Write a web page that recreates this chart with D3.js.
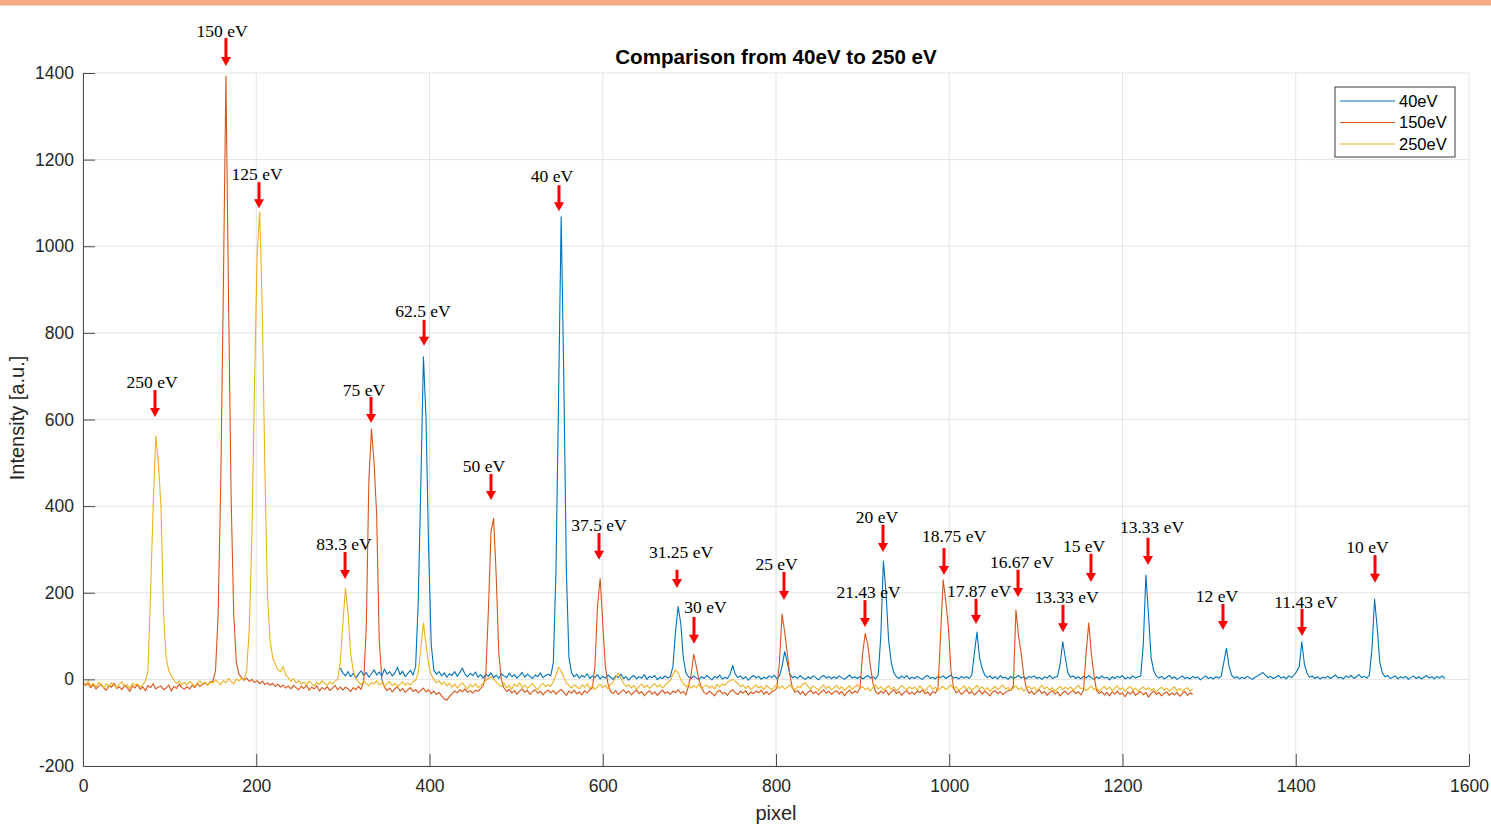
<!DOCTYPE html>
<html>
<head>
<meta charset="utf-8">
<script src="https://cdn.jsdelivr.net/npm/d3@7"></script>
<style>
  body { margin: 0; background: #fff; }
  svg { display: block; font-family: "Liberation Sans", Arial, Helvetica, sans-serif; }
</style>
</head>
<body>
<svg id="chart" width="1491" height="827"></svg>
<script>
// ---- spectra: intensity sampled every 3 pixels ----
const seriesNames = ["40eV", "150eV", "250eV"];
const pixelStep = 3;
const start40 = 297;
const start150 = 0;
const start250 = 0;

const intensity40 = [
  26,15,8,18,6,14,3,12,20,9,16,5,13,22,10,17,7,24,12,18,
  8,15,28,11,19,6,14,21,10,30,180,450,745,600,300,80,22,12,18,8,
  15,5,13,9,18,7,16,26,12,6,14,9,17,5,11,3,12,7,15,4,
  10,2,13,8,4,14,6,11,3,9,16,5,12,7,2,10,6,15,4,9,
  12,8,40,250,650,1068,700,250,50,15,6,12,3,9,5,13,2,8,4,11,
  1,7,3,10,5,0,8,4,12,2,6,-2,5,9,1,6,3,11,0,7,
  4,9,-1,5,2,8,3,6,30,110,168,130,50,15,6,2,8,3,0,6,
  2,9,4,-1,7,3,10,1,5,2,12,32,12,4,8,1,6,-2,5,9,
  3,7,0,5,2,8,4,10,1,8,30,64,40,12,4,7,2,9,3,0,
  6,2,8,4,-1,5,9,3,7,1,6,2,8,4,0,5,10,3,6,2,
  7,1,5,9,3,6,1,10,100,273,200,90,40,15,6,2,8,3,9,1,
  5,2,7,3,0,6,9,2,5,1,7,4,8,2,6,10,3,5,1,7,
  3,6,2,10,60,109,50,25,10,4,8,2,6,1,9,3,5,0,7,2,
  5,9,3,6,1,7,4,8,2,5,0,6,3,9,2,5,7,35,87,50,
  15,5,8,2,6,1,7,3,9,4,0,6,2,8,3,5,-1,6,2,7,
  4,9,1,5,2,8,3,6,8,80,241,150,50,20,8,3,7,1,5,9,
  2,6,0,4,8,2,5,1,7,3,6,-1,4,8,2,5,1,6,3,7,
  40,72,30,10,3,6,1,5,2,7,3,0,5,8,12,16,10,4,7,2,
  5,9,3,6,1,8,4,10,18,30,87,35,14,5,8,2,6,1,5,3,
  7,2,6,10,3,5,1,8,4,9,2,6,11,4,7,3,10,70,185,120,
  40,15,6,9,2,5,8,1,6,3,7,0,4,8,2,6,1,5,9,3,
  6,1,7,3,8,2
];

const intensity150 = [
  -8,-14,-10,-19,-12,-22,-16,-11,-20,-25,-14,-18,-9,-21,-17,-24,-13,-19,-28,-15,
  -20,-12,-23,-17,-26,-14,-19,-10,-22,-18,-15,-24,-20,-13,-27,-16,-21,-11,-19,-23,
  -17,-22,-14,-19,-10,-16,-12,-8,-13,-6,-4,20,150,450,900,1393,880,420,150,40,
  12,4,-2,3,-5,0,-7,-3,-10,-4,-12,-8,-14,-9,-16,-11,-18,-13,-20,-15,
  -22,-14,-19,-24,-16,-21,-13,-25,-18,-22,-15,-27,-19,-23,-17,-26,-20,-14,-24,-18,
  -25,-18,-22,-28,-19,-24,-16,-23,-5,120,460,578,500,380,90,0,-18,-26,-20,-29,
  -22,-17,-27,-21,-30,-24,-19,-28,-23,-31,-25,-20,-29,-24,-33,-27,-35,-30,-38,-45,
  -48,-40,-33,-27,-31,-24,-29,-22,-30,-26,-32,-25,-28,-21,-15,10,160,340,372,240,
  60,0,-20,-28,-23,-31,-26,-34,-27,-22,-30,-25,-35,-28,-24,-32,-27,-36,-29,-25,
  -31,-26,-34,-28,-23,-30,-37,-27,-32,-25,-33,-29,-36,-26,-31,-24,-20,30,170,233,
  130,30,-10,-28,-33,-26,-35,-29,-24,-32,-27,-36,-30,-25,-33,-28,-38,-31,-26,-34,
  -29,-37,-30,-25,-33,-28,-35,-27,-31,-24,-32,-28,-36,-15,10,58,30,0,-20,-30,
  -34,-27,-32,-38,-29,-25,-33,-30,-37,-28,-24,-31,-35,-27,-32,-26,-36,-29,-33,-27,
  -31,-25,-34,-28,-35,-29,-26,-20,40,151,110,60,10,-20,-30,-26,-34,-28,-37,-30,
  -25,-33,-28,-36,-30,-24,-32,-27,-35,-29,-26,-34,-28,-38,-30,-25,-33,-27,-31,-20,
  60,106,80,30,-10,-28,-34,-27,-32,-25,-36,-29,-24,-33,-28,-37,-30,-26,-34,-29,
  -35,-27,-31,-24,-33,-29,-37,-28,-32,-20,100,230,180,120,20,-20,-31,-26,-35,-29,
  -24,-33,-28,-36,-30,-25,-34,-27,-32,-38,-29,-26,-33,-28,-35,-30,-26,-25,-15,160,
  100,60,10,-20,-32,-27,-35,-29,-24,-33,-28,-37,-30,-26,-34,-29,-38,-31,-27,-35,
  -30,-25,-33,-28,-36,-25,60,130,60,10,-25,-33,-28,-36,-30,-38,-29,-34,-27,-35,
  -31,-40,-29,-34,-27,-37,-32,-28,-36,-30,-41,-33,-27,-35,-30,-38,-32,-29,-37,-31,
  -36,-30,-39,-33,-28,-37,-31,-35
];

const intensity250 = [
  -6,-12,-4,-15,-9,-18,-7,-13,-20,-10,-16,-8,-14,-19,-11,-6,-17,-12,-21,-9,
  -14,-10,-18,-12,-5,20,200,400,562,500,400,150,50,20,8,-2,-9,-4,-12,-7,
  -13,-5,-10,-16,-8,-3,-11,-6,-14,-4,-9,-1,-7,-12,-3,-8,2,-5,-10,1,
  -4,3,0,20,120,330,680,980,1079,850,480,190,90,50,35,22,18,30,10,4,
  -5,2,-8,-3,-11,-6,-13,-4,-10,-15,-7,-12,-3,-9,-14,-6,-11,-4,0,40,
  130,210,150,60,20,2,-6,-12,-4,-9,-15,-7,-11,-3,-13,-8,-16,-10,-5,-14,
  -9,-17,-11,-6,-14,-8,-13,-5,-2,15,70,130,80,35,10,0,-8,-3,-12,-6,
  -15,-9,-18,-11,-20,-13,-8,-16,-22,-12,-17,-10,-19,-14,-9,-3,2,6,1,-6,
  -12,-17,-9,-20,-14,-23,-11,-16,-8,-19,-13,-21,-15,-10,-18,-24,-14,-9,-17,-12,
  -16,-5,10,28,20,5,-8,-14,-20,-12,-17,-22,-13,-18,-10,-21,-15,-24,-16,-11,
  -19,-14,-22,-12,-6,5,14,3,-9,-17,-12,-20,-14,-23,-16,-11,-19,-13,-21,-15,
  -10,-18,-12,-20,-14,-8,-2,12,22,15,0,-10,-17,-12,-21,-14,-19,-11,-22,-16,
  -13,-20,-15,-22,-12,-18,-10,-14,-6,-3,0,-4,-10,-17,-13,-21,-15,-24,-18,-13,
  -20,-16,-23,-14,-19,-25,-17,-12,-21,-15,-22,-18,-13,-20,-24,-16,-19,-11,-8,-17,
  -22,-15,-20,-26,-18,-13,-21,-16,-24,-19,-14,-22,-17,-25,-20,-15,-23,-18,-12,-21,
  -16,-24,-19,-27,-18,-13,-22,-17,-25,-20,-15,-23,-18,-26,-21,-14,-19,-24,-17,-22,
  -18,-25,-15,-21,-27,-19,-14,-23,-18,-26,-20,-16,-24,-19,-13,-22,-17,-25,-21,-15,
  -23,-18,-26,-20,-14,-22,-17,-25,-19,-27,-21,-16,-24,-18,-13,-22,-19,-26,-20,-15,
  -24,-19,-27,-21,-16,-23,-18,-26,-20,-14,-22,-17,-25,-19,-28,-21,-16,-24,-18,-23,
  -17,-25,-20,-14,-22,-18,-26,-21,-15,-24,-19,-27,-22,-16,-23,-18,-26,-20,-15,-24,
  -19,-27,-21,-16,-25,-20,-28,-22,-17,-24,-19,-26,-21,-29,-23,-18,-25,-20,-27,-22,
  -17,-26,-21,-28,-23,-19,-27,-22
];

const xTicks = [0, 200, 400, 600, 800, 1000, 1200, 1400, 1600];
const yTicks = [-200, 0, 200, 400, 600, 800, 1000, 1200, 1400];

// peak annotations (pixel / intensity coordinates)
const peakNotes = [
  { label: "150 eV",   pixel: 165,    textPixel: 160.5,  textLevel: 1483, from: 1481, to: 1416 },
  { label: "125 eV",   pixel: 203.2,  textPixel: 200.9,  textLevel: 1153, from: 1148, to: 1088 },
  { label: "250 eV",   pixel: 83.1,   textPixel: 79.7,   textLevel: 673,  from: 668,  to: 606 },
  { label: "62.5 eV",  pixel: 393.7,  textPixel: 392.5,  textLevel: 837,  from: 830,  to: 770 },
  { label: "75 eV",    pixel: 332.5,  textPixel: 324.4,  textLevel: 654,  from: 652,  to: 592 },
  { label: "40 eV",    pixel: 549.5,  textPixel: 541.4,  textLevel: 1148, from: 1141, to: 1081 },
  { label: "50 eV",    pixel: 471,    textPixel: 462.9,  textLevel: 479,  from: 474,  to: 414 },
  { label: "83.3 eV",  pixel: 302.5,  textPixel: 301.3,  textLevel: 299,  from: 294,  to: 232 },
  { label: "37.5 eV",  pixel: 595.7,  textPixel: 595.7,  textLevel: 343,  from: 338,  to: 276 },
  { label: "31.25 eV", pixel: 685.7,  textPixel: 690.3,  textLevel: 280,  from: 253,  to: 211 },
  { label: "30 eV",    pixel: 705.3,  textPixel: 718.6,  textLevel: 153,  from: 144,  to: 82 },
  { label: "25 eV",    pixel: 809.2,  textPixel: 800.6,  textLevel: 253,  from: 248,  to: 183 },
  { label: "21.43 eV", pixel: 902.7,  textPixel: 906.8,  textLevel: 188,  from: 183,  to: 121 },
  { label: "20 eV",    pixel: 923.5,  textPixel: 916.6,  textLevel: 361,  from: 357,  to: 294 },
  { label: "18.75 eV", pixel: 993.9,  textPixel: 1005.5, textLevel: 317,  from: 303,  to: 241 },
  { label: "17.87 eV", pixel: 1030.9, textPixel: 1034.3, textLevel: 190,  from: 186,  to: 128 },
  { label: "16.67 eV", pixel: 1079.4, textPixel: 1084,   textLevel: 257,  from: 253,  to: 190 },
  { label: "13.33 eV", pixel: 1131.3, textPixel: 1135.4, textLevel: 176,  from: 172,  to: 109 },
  { label: "15 eV",    pixel: 1163.6, textPixel: 1155.6, textLevel: 294,  from: 290,  to: 225 },
  { label: "13.33 eV", pixel: 1229.4, textPixel: 1234.1, textLevel: 338,  from: 327,  to: 264 },
  { label: "12 eV",    pixel: 1316,   textPixel: 1309.1, textLevel: 179,  from: 174,  to: 114 },
  { label: "11.43 eV", pixel: 1407.2, textPixel: 1411.8, textLevel: 165,  from: 163,  to: 100 },
  { label: "10 eV",    pixel: 1491.5, textPixel: 1482.8, textLevel: 292,  from: 287,  to: 223 }
];

const colors = ["#0072BD", "#D95319", "#EDB120"];

// ---- layout ----
const svg = d3.select("#chart");
const W = 1491, H = 827;
const plot = { left: 83, right: 1469, top: 73, bottom: 766 };

const x = d3.scaleLinear().domain([0, 1600]).range([plot.left, plot.right]);
const y = d3.scaleLinear().domain([-200, 1400]).range([plot.bottom, plot.top]);

// header strip
svg.append("rect").attr("x", 0).attr("y", 0).attr("width", W).attr("height", 5.5)
  .attr("fill", "#F3AA82");

// grid
const grid = svg.append("g").attr("stroke", "#e3e3e3").attr("stroke-width", 1);
grid.selectAll("line.vx").data(xTicks).join("line")
  .attr("x1", d => x(d)).attr("x2", d => x(d))
  .attr("y1", plot.top).attr("y2", plot.bottom);
grid.selectAll("line.hy").data(yTicks).join("line")
  .attr("x1", plot.left).attr("x2", plot.right)
  .attr("y1", d => y(d)).attr("y2", d => y(d));

// spectra
const toPoints = (start, vals) => vals.map((v, i) => [start + i * pixelStep, v]);
const series = [
  toPoints(start40, intensity40),
  toPoints(start150, intensity150),
  toPoints(start250, intensity250)
];
const line = d3.line().x(d => x(d[0])).y(d => y(d[1]));
svg.append("g").selectAll("path").data(series).join("path")
  .attr("d", line)
  .attr("fill", "none")
  .attr("stroke", (d, i) => colors[i])
  .attr("stroke-width", 1.1)
  .attr("stroke-linejoin", "round");

// axes
const axisColor = "#262626";
const plainNumber = d => String(d);
const xAxis = svg.append("g").attr("transform", `translate(0,${plot.bottom})`)
  .call(d3.axisBottom(x).tickValues(xTicks).tickFormat(plainNumber)
    .tickSizeInner(-12).tickSizeOuter(0).tickPadding(14));
const yAxis = svg.append("g").attr("transform", `translate(${plot.left},0)`)
  .call(d3.axisLeft(y).tickValues(yTicks).tickFormat(plainNumber)
    .tickSizeInner(-12).tickSizeOuter(0).tickPadding(9));
[xAxis, yAxis].forEach(a => {
  a.select(".domain").attr("stroke", "#4a4a4a");
  a.selectAll(".tick line").attr("stroke", "#4a4a4a");
  a.selectAll(".tick text").attr("fill", axisColor)
    .style("font-family", '"Liberation Sans", Arial, sans-serif')
    .style("font-size", "17.5px");
});

// title and axis labels
svg.append("text").attr("x", 776).attr("y", 64).attr("text-anchor", "middle")
  .attr("font-weight", "bold").attr("font-size", 20.6).attr("fill", "#000")
  .text("Comparison from 40eV to 250 eV");
svg.append("text").attr("x", 776).attr("y", 820).attr("text-anchor", "middle")
  .attr("font-size", 20).attr("fill", axisColor).text("pixel");
svg.append("text").attr("transform", "translate(24,418) rotate(-90)").attr("text-anchor", "middle")
  .attr("font-size", 20).attr("fill", axisColor).text("Intensity [a.u.]");

// peak annotations
const notes = svg.append("g");
notes.selectAll("text").data(peakNotes).join("text")
  .attr("x", d => x(d.textPixel)).attr("y", d => y(d.textLevel))
  .attr("text-anchor", "middle")
  .style("font-family", '"Liberation Serif", "Times New Roman", serif')
  .style("font-size", "17.5px")
  .attr("fill", "#000")
  .text(d => d.label);
const headH = 9, headW = 5;
notes.selectAll("line").data(peakNotes).join("line")
  .attr("x1", d => x(d.pixel)).attr("x2", d => x(d.pixel))
  .attr("y1", d => y(d.from)).attr("y2", d => y(d.to) - headH + 1)
  .attr("stroke", "#ff0000").attr("stroke-width", 3);
notes.selectAll("path").data(peakNotes).join("path")
  .attr("d", d => {
    const px = x(d.pixel), ty = y(d.to);
    return `M${px - headW},${ty - headH}L${px + headW},${ty - headH}L${px},${ty}Z`;
  })
  .attr("fill", "#ff0000");

// legend
const legend = svg.append("g").attr("transform", "translate(1335,87)");
legend.append("rect").attr("width", 120).attr("height", 70)
  .attr("fill", "#fff").attr("stroke", "#3a3a3a").attr("stroke-width", 1);
seriesNames.forEach((name, i) => {
  const ly = 14 + i * 21.5;
  legend.append("line").attr("x1", 5).attr("x2", 60).attr("y1", ly).attr("y2", ly)
    .attr("stroke", colors[i]).attr("stroke-width", 1.1);
  legend.append("text").attr("x", 64).attr("y", ly).attr("dy", "0.35em")
    .attr("font-size", 16.5).attr("fill", "#000").text(name);
});
</script>
</body>
</html>
